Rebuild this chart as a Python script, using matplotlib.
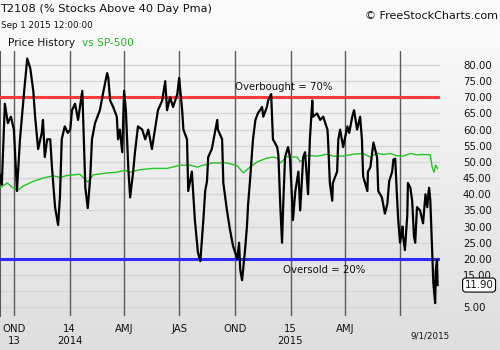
import numpy as np
import pandas as pd
import matplotlib
matplotlib.use('Agg')
import matplotlib.pyplot as plt

# T2108 daily readings (approximate)
t2108_dates = [
    '2013-09-08', '2013-09-11', '2013-09-16', '2013-09-21', '2013-09-26', '2013-10-01',
    '2013-10-06', '2013-10-11', '2013-10-18', '2013-10-23', '2013-10-28', '2013-11-02',
    '2013-11-05', '2013-11-10', '2013-11-16', '2013-11-18', '2013-11-21', '2013-11-25',
    '2013-11-30', '2013-12-03', '2013-12-08', '2013-12-13', '2013-12-16', '2013-12-19',
    '2013-12-24', '2013-12-29', '2014-01-02', '2014-01-05', '2014-01-10', '2014-01-15',
    '2014-01-22', '2014-01-23', '2014-01-27', '2014-01-31', '2014-02-04', '2014-02-07',
    '2014-02-12', '2014-02-20', '2014-02-25', '2014-03-04', '2014-03-06', '2014-03-09',
    '2014-03-14', '2014-03-20', '2014-03-22', '2014-03-25', '2014-03-29', '2014-04-01',
    '2014-04-04', '2014-04-08', '2014-04-11', '2014-04-16', '2014-04-19', '2014-04-24',
    '2014-05-01', '2014-05-06', '2014-05-11', '2014-05-17', '2014-05-22', '2014-05-27',
    '2014-06-03', '2014-06-08', '2014-06-11', '2014-06-16', '2014-06-21', '2014-06-28',
    '2014-07-01', '2014-07-06', '2014-07-08', '2014-07-14', '2014-07-16', '2014-07-22',
    '2014-07-27', '2014-08-01', '2014-08-05', '2014-08-10', '2014-08-13', '2014-08-16',
    '2014-08-18', '2014-08-24', '2014-09-02', '2014-09-03', '2014-09-10', '2014-09-12',
    '2014-09-18', '2014-09-23', '2014-09-28', '2014-10-05', '2014-10-08', '2014-10-10',
    '2014-10-13', '2014-10-18', '2014-10-21', '2014-10-23', '2014-10-26', '2014-10-31',
    '2014-11-04', '2014-11-08', '2014-11-15', '2014-11-17', '2014-11-23', '2014-11-25',
    '2014-11-30', '2014-12-03', '2014-12-10', '2014-12-12', '2014-12-15', '2014-12-18',
    '2014-12-20', '2014-12-23', '2014-12-28', '2014-12-31', '2015-01-04', '2015-01-05',
    '2015-01-09', '2015-01-14', '2015-01-17', '2015-01-20', '2015-01-22', '2015-01-25',
    '2015-01-30', '2015-02-02', '2015-02-06', '2015-02-07', '2015-02-14', '2015-02-19',
    '2015-02-24', '2015-03-03', '2015-03-04', '2015-03-07', '2015-03-11', '2015-03-12',
    '2015-03-19', '2015-03-21', '2015-03-24', '2015-03-29', '2015-04-05', '2015-04-08',
    '2015-04-13', '2015-04-16', '2015-04-21', '2015-04-26', '2015-04-29', '2015-05-01',
    '2015-05-08', '2015-05-09', '2015-05-13', '2015-05-18', '2015-05-24', '2015-05-26',
    '2015-06-01', '2015-06-06', '2015-06-10', '2015-06-13', '2015-06-18', '2015-06-20',
    '2015-06-23', '2015-06-26', '2015-06-28', '2015-07-01', '2015-07-05', '2015-07-06',
    '2015-07-09', '2015-07-13', '2015-07-14', '2015-07-18', '2015-07-21', '2015-07-24',
    '2015-07-26', '2015-07-29', '2015-08-03', '2015-08-08', '2015-08-12', '2015-08-15',
    '2015-08-17', '2015-08-18', '2015-08-20', '2015-08-23', '2015-08-25', '2015-08-28',
    '2015-08-29', '2015-08-31', '2015-09-01',
]
t2108_values = [
    46, 43, 68, 62, 64, 60,
    41, 57, 72, 82, 79, 72,
    64, 54, 59, 63, 51.5, 57,
    57, 48, 36, 30.5, 39, 57,
    61, 59, 60, 66, 68, 63,
    72, 66, 42, 35.7, 45, 57,
    62, 66, 71, 77.5, 76, 69,
    67, 64, 57, 60, 53, 72,
    66, 48, 39, 47, 53, 61,
    60, 57, 60, 54, 60, 66,
    69, 75, 66, 70, 67, 71,
    76, 66, 60, 57, 41, 47,
    32, 22, 19.3, 32, 41, 44,
    51.5, 54, 63, 60, 57, 43.5,
    35, 29, 24, 20, 25, 16.5,
    13.4, 23, 30, 37, 44, 57,
    63, 65, 67, 64, 67, 69,
    71, 57, 54.6, 52, 37, 25,
    37, 51.5, 54.6, 51.5, 37, 32,
    41, 47, 35, 45, 51.5, 53,
    40, 57, 69, 64, 65, 63,
    64, 60, 57, 43.5, 38, 43.5,
    47, 57, 60, 54.6, 61, 59,
    64, 66, 60, 64, 57, 45.5,
    41, 47, 48.4, 56, 51.5, 41,
    39, 34, 37, 44, 47, 50.7,
    51, 39, 32, 25, 30, 27,
    22.7, 33.7, 43.5, 42, 38, 27,
    25, 36, 35, 31, 40, 36,
    40.5, 42, 38, 22.6, 12.5, 6.3,
    16.5, 19.7, 11.9,
]

# S&P 500 overlay, scaled onto the same axis
spx_dates = [
    '2013-09-08', '2013-09-20', '2013-09-29', '2013-10-08', '2013-10-16', '2013-11-02',
    '2013-11-18', '2013-12-05', '2013-12-16', '2013-12-28', '2014-01-18', '2014-01-31',
    '2014-02-09', '2014-03-04', '2014-03-20', '2014-04-03', '2014-04-11', '2014-04-27',
    '2014-05-19', '2014-06-11', '2014-07-03', '2014-07-19', '2014-07-31', '2014-08-10',
    '2014-08-26', '2014-09-18', '2014-10-05', '2014-10-15', '2014-10-26', '2014-11-07',
    '2014-11-23', '2014-12-03', '2014-12-10', '2014-12-15', '2014-12-26', '2015-01-12',
    '2015-01-17', '2015-01-28', '2015-02-14', '2015-03-03', '2015-03-12', '2015-03-29',
    '2015-04-15', '2015-05-01', '2015-05-13', '2015-05-24', '2015-06-03', '2015-06-15',
    '2015-06-26', '2015-07-06', '2015-07-18', '2015-07-29', '2015-08-08', '2015-08-20',
    '2015-08-23', '2015-08-26', '2015-08-29', '2015-09-01',
]
spx_values = [
    42, 43.5, 42, 41.3, 42.5, 44,
    45, 45.7, 45.2, 45.8, 46.2, 43.8,
    46, 46.6, 46.8, 47.4, 46.8, 47.6,
    48, 48, 49, 49, 48.4, 49,
    49.7, 49.7, 48.8, 46.6, 48.4, 50,
    51.2, 51.5, 51.2, 49.7, 51.6, 51.5,
    50, 52, 51.8, 52.4, 51.8, 51.8,
    52.4, 52.6, 51.5, 52.7, 52.3, 52.6,
    51.9, 51.8, 52.6, 52.2, 52.3, 52.2,
    48.4, 46.8, 49, 48,
]

tick_dates = ['2013-10-01', '2014-01-01', '2014-04-01', '2014-07-01', '2014-10-01',
              '2015-01-01', '2015-04-01', '2015-07-01']
tick_labels = ['OND\n13', '14\n2014', 'AMJ', 'JAS', 'OND', '15\n2015', 'AMJ', '']
y_ticks = [5, 15, 20, 25, 30, 35, 40, 45, 50, 55, 60, 65, 70, 75, 80]
overbought = 70
oversold = 20
last_value = 11.90

fig = plt.figure(figsize=(5, 3.5), dpi=100)

# background gradient
bg = fig.add_axes([0, 0, 1, 1], zorder=-10)
grad = np.linspace(0, 1, 256).reshape(-1, 1)
bg.imshow(grad, aspect='auto', cmap=matplotlib.colors.LinearSegmentedColormap.from_list(
    'bg', ['#fcfcfc', '#dedede']), extent=[0, 1, 0, 1])
bg.axis('off')

ax = fig.add_axes([0, 0.097, 0.88, 0.757])
ax.patch.set_alpha(0)

td = pd.to_datetime(t2108_dates)
sd = pd.to_datetime(spx_dates)

for v in range(5, 85, 5):
    ax.axhline(v, color='#d6d6d6', lw=1, zorder=1)
for d in pd.to_datetime(tick_dates):
    ax.axvline(d, color='#5a5a5a', lw=1, zorder=2)

ax.axhline(overbought, color='#ff3b3b', lw=2.2, zorder=3)
ax.axhline(oversold, color='#2b2bff', lw=2.2, zorder=3)

ax.plot(sd, spx_values, color='#22c422', lw=1.0, zorder=4)
ax.plot(td, t2108_values, color='black', lw=1.6, zorder=5)

ax.set_xlim(pd.Timestamp('2013-09-08'), pd.Timestamp('2015-09-05'))
ax.set_ylim(2.3, 84.3)

ax.set_xticks(pd.to_datetime(tick_dates))
ax.set_xticklabels(tick_labels, fontsize=7.3, color='#111111', linespacing=1.25)
ax.tick_params(axis='x', length=0, pad=6)

ax.yaxis.tick_right()
ax.set_yticks(y_ticks)
ax.set_yticklabels(['%.2f' % v for v in y_ticks], fontsize=7.3, color='#111111')
ax.tick_params(axis='y', length=0, pad=16.5)

for s in ['top', 'right', 'bottom']:
    ax.spines[s].set_visible(False)
ax.spines['left'].set_color('#5a5a5a')

ax.text(0.535, overbought + 1.5, 'Overbought = 70%', transform=ax.get_yaxis_transform(),
        fontsize=7.3, color='#111111', va='bottom')
ax.text(0.643, oversold - 1.8, 'Oversold = 20%', transform=ax.get_yaxis_transform(),
        fontsize=7.3, color='#111111', va='top')

ax.text(1.056, last_value, '%.2f' % last_value, transform=ax.get_yaxis_transform(),
        fontsize=7.3, color='#111111', va='center', ha='left',
        bbox=dict(boxstyle='round,pad=0.2,rounding_size=0.3', fc='white', ec='black', lw=0.8))

ax.text(0.978, -0.06, '9/1/2015', transform=ax.transAxes, fontsize=6.3,
        color='#111111', ha='center', va='top')

fig.text(0.0, 0.975, 'T2108 (% Stocks Above 40 Day Pma)', fontsize=8.2, color='#111111',
         va='center', ha='left')
fig.text(0.002, 0.928, 'Sep 1 2015 12:00:00', fontsize=6.3, color='#111111',
         va='center', ha='left')
fig.text(0.016, 0.877, 'Price History', fontsize=7.6, color='#111111', va='center', ha='left')
fig.text(0.164, 0.877, 'vs SP-500', fontsize=7.6, color='#22b822', va='center', ha='left')
fig.text(0.996, 0.953, '\u00a9 FreeStockCharts.com', fontsize=8.0, color='#111111',
         va='center', ha='right')

fig.savefig('out.png', dpi=100)
